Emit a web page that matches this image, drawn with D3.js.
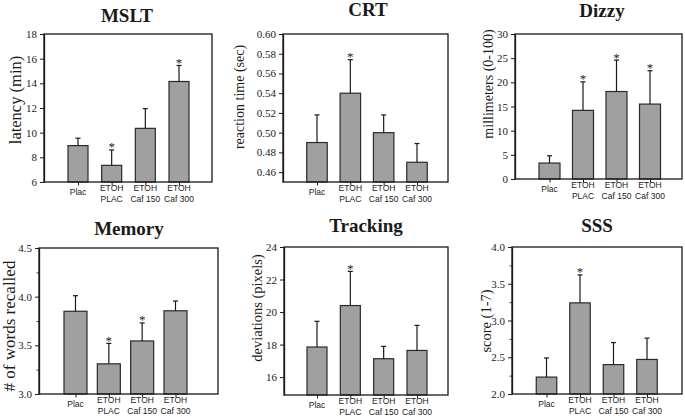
<!DOCTYPE html>
<html><head><meta charset="utf-8">
<script src="https://cdn.jsdelivr.net/npm/d3@7"></script>
<style>body{margin:0;background:#fff}svg{display:block}</style>
</head><body>
<script>
// ---- data ----
const categories = ["Plac", "ETOH PLAC", "ETOH Caf 150", "ETOH Caf 300"];
const categoryLines = [["Plac"], ["ETOH", "PLAC"], ["ETOH", "Caf 150"], ["ETOH", "Caf 300"]];

const msltMean = [8.95, 7.35, 10.35, 14.15];
const msltErr  = [0.60, 1.25, 1.60, 1.30];
const msltSig  = [false, true, false, true];
const msltTicks = [6, 8, 10, 12, 14, 16, 18];

const crtMean = [0.490, 0.540, 0.500, 0.470];
const crtErr  = [0.028, 0.034, 0.018, 0.019];
const crtSig  = [false, true, false, false];
const crtTicks = [0.46, 0.48, 0.50, 0.52, 0.54, 0.56, 0.58, 0.60];

const dizzyMean = [3.3, 14.2, 18.1, 15.5];
const dizzyErr  = [1.5, 5.9, 6.5, 6.9];
const dizzySig  = [false, true, true, true];
const dizzyTicks = [0, 5, 10, 15, 20, 25, 30];

const memoryMean = [3.85, 3.31, 3.545, 3.855];
const memoryErr  = [0.16, 0.21, 0.185, 0.10];
const memorySig  = [false, true, true, false];
const memoryTicks = [3.0, 3.5, 4.0, 4.5];
const memoryMinor = [3.25, 3.75, 4.25];

const trackingMean = [17.85, 20.4, 17.13, 17.64];
const trackingErr  = [1.58, 2.1, 0.76, 1.54];
const trackingSig  = [false, true, false, false];
const trackingTicks = [16, 18, 20, 22, 24];

const sssMean = [2.23, 3.24, 2.40, 2.47];
const sssErr  = [0.26, 0.38, 0.30, 0.29];
const sssSig  = [false, true, false, false];
const sssTicks = [2.0, 2.5, 3.0, 3.5, 4.0];
const sssMinor = [2.25, 2.75, 3.25, 3.75];

// ---- panels (data + layout) ----
const panels = [
  {title:"MSLT", ylab:"latency (min)", mean:msltMean, err:msltErr, sig:msltSig, ticks:msltTicks, minor:[], domain:[6,18], fmt:d3.format("d"),
   L:44, R:212, T:34, B:182, p0:34, p1:33, bw:20, tx:127, ty:22, lx:15, ly:100, lfs:16.5},
  {title:"CRT", ylab:"reaction time (sec)", mean:crtMean, err:crtErr, sig:crtSig, ticks:crtTicks, minor:[], domain:[0.45,0.60], fmt:d3.format(".2f"),
   L:283, R:448, T:34, B:182, p0:34, p1:31, bw:20.5, tx:368, ty:16, lx:239, ly:97, lfs:14},
  {title:"Dizzy", ylab:"millimeters (0-100)", mean:dizzyMean, err:dizzyErr, sig:dizzySig, ticks:dizzyTicks, minor:[], domain:[0,30], fmt:d3.format("d"),
   L:515, R:682, T:34, B:179, p0:34.5, p1:32, bw:21, tx:602, ty:17, lx:488, ly:84, lfs:14},
  {title:"Memory", ylab:"# of words recalled", mean:memoryMean, err:memoryErr, sig:memorySig, ticks:memoryTicks, minor:memoryMinor, domain:[3,4.5], fmt:d3.format(".1f"),
   L:39, R:218, T:248, B:394, p0:36.5, p1:42.5, bw:23, tx:129, ty:235, lx:9.5, ly:326, lfs:17},
  {title:"Tracking", ylab:"deviations (pixels)", mean:trackingMean, err:trackingErr, sig:trackingSig, ticks:trackingTicks, minor:[], domain:[14.9,24], fmt:d3.format("d"),
   L:284, R:448, T:247, B:395, p0:33, p1:31, bw:20, tx:366, ty:232, lx:257, ly:308, lfs:14.5},
  {title:"SSS", ylab:"score (1-7)", mean:sssMean, err:sssErr, sig:sssSig, ticks:sssTicks, minor:sssMinor, domain:[2,4], fmt:d3.format(".1f"),
   L:512, R:682, T:247, B:394, p0:34.5, p1:35, bw:20.5, tx:597, ty:232, lx:486, ly:321, lfs:14.5}
];

const svg = d3.select("body").append("svg").attr("width", 685).attr("height", 417);
const serif = "'Liberation Serif','Times New Roman',serif";
const sans = "'Liberation Sans',Arial,sans-serif";
const ink = "#1a1a1a";

panels.forEach(p => {
  const g = svg.append("g");
  const y = d3.scaleLinear().domain(p.domain).range([p.B, p.T]);
  const x = d3.scalePoint().domain(categories).range([p.L + p.p0, p.R - p.p1]);
  const rows = categories.map((c, i) => ({c, i, m:p.mean[i], e:p.err[i], s:p.sig[i]}));

  // bars
  g.selectAll("rect.bar").data(rows).join("rect").attr("class","bar")
    .attr("x", d => x(d.c) - p.bw/2).attr("width", p.bw)
    .attr("y", d => y(d.m)).attr("height", d => y(p.domain[0]) - y(d.m))
    .attr("fill", "#a0a0a0").attr("stroke", "#2a2a2a").attr("stroke-width", 1.2);

  // error bars
  g.selectAll("line.eb").data(rows).join("line").attr("class","eb")
    .attr("x1", d => x(d.c)).attr("x2", d => x(d.c))
    .attr("y1", d => y(d.m)).attr("y2", d => y(d.m + d.e))
    .attr("stroke", ink).attr("stroke-width", 1.2);
  g.selectAll("line.cap").data(rows).join("line").attr("class","cap")
    .attr("x1", d => x(d.c) - 2.5).attr("x2", d => x(d.c) + 2.5)
    .attr("y1", d => y(d.m + d.e)).attr("y2", d => y(d.m + d.e))
    .attr("stroke", ink).attr("stroke-width", 1.2);
  g.selectAll("text.star").data(rows.filter(d => d.s)).join("text").attr("class","star")
    .attr("x", d => x(d.c)).attr("y", d => y(d.m + d.e) + 1.5)
    .attr("text-anchor", "middle").attr("font-family", serif).attr("font-size", 13)
    .attr("fill", ink).text("*");

  // frame
  g.append("rect").attr("x", p.L).attr("y", p.T).attr("width", p.R - p.L).attr("height", p.B - p.T)
    .attr("fill", "none").attr("stroke", ink).attr("stroke-width", 1.3);

  // left axis
  const ya = g.append("g").attr("transform", `translate(${p.L},0)`)
    .call(d3.axisLeft(y).tickValues(p.ticks).tickFormat(p.fmt).tickSize(4).tickSizeOuter(0).tickPadding(3));
  ya.select(".domain").attr("stroke", ink).attr("stroke-width", 1.3);
  ya.selectAll(".tick line").attr("stroke", ink).attr("stroke-width", 1);
  ya.selectAll(".tick text").attr("font-family", serif).attr("font-size", 11).attr("fill", ink);
  if (p.minor.length) {
    const ym = g.append("g").attr("transform", `translate(${p.L},0)`)
      .call(d3.axisLeft(y).tickValues(p.minor).tickFormat("").tickSize(2.5).tickSizeOuter(0));
    ym.select(".domain").remove();
    ym.selectAll(".tick line").attr("stroke", ink).attr("stroke-width", 0.8);
  }

  // bottom axis
  const xa = g.append("g").attr("transform", `translate(0,${p.B})`)
    .call(d3.axisBottom(x).tickSize(3.5).tickSizeOuter(0).tickFormat(""));
  xa.select(".domain").remove();
  xa.selectAll(".tick line").attr("stroke", ink).attr("stroke-width", 1);

  // category labels
  rows.forEach(d => {
    const lines = categoryLines[d.i];
    const t = g.append("text").attr("text-anchor", "middle").attr("font-family", sans)
      .attr("font-size", 8.5).attr("fill", ink);
    if (lines.length === 1) {
      t.append("tspan").attr("x", x(d.c)).attr("y", p.B + 13).text(lines[0]);
    } else {
      lines.forEach((ln, k) => t.append("tspan").attr("x", x(d.c)).attr("y", p.B + 8.5 + k * 11).text(ln));
    }
  });

  // title
  g.append("text").attr("x", p.tx).attr("y", p.ty).attr("text-anchor", "middle")
    .attr("font-family", serif).attr("font-weight", "bold").attr("font-size", 19).attr("fill", ink).text(p.title);

  // y label
  g.append("text").attr("transform", `translate(${p.lx},${p.ly}) rotate(-90)`)
    .attr("text-anchor", "middle").attr("dominant-baseline", "central")
    .attr("font-family", serif).attr("font-size", p.lfs).attr("fill", ink).text(p.ylab);
});
</script>
</body></html>
